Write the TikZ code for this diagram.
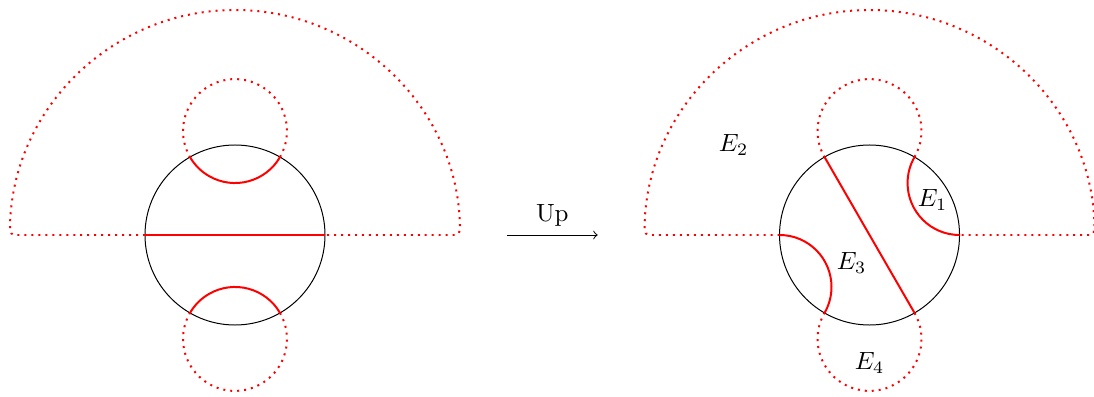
\documentclass[tikz,border=0pt]{standalone}
\usepackage{amsmath}

\begin{document}
\begin{tikzpicture}[
    x=1.27cm, y=1.27cm,
    seam/.style={red, thick, dotted},
    cut/.style={red, thick},
    >=to
]

\useasboundingbox (-2.611,-1.789) rectangle (9.544,2.611);

% --- Before: disc with the horizontal cut ---
\draw[thin] (0,0) circle (1);
\draw[seam, rounded corners=2pt] (-1,0) -- (-2.5,0) arc[start angle=180, end angle=0, radius=2.5] -- (1,0);
\draw[seam] (60:1) arc[start angle=-30, end angle=210, radius=0.5774];
\draw[seam] (-60:1) arc[start angle=30, end angle=-210, radius=0.5774];
\draw[cut] (60:1) arc[start angle=-30, end angle=-150, radius=0.5774];
\draw[cut] (-60:1) arc[start angle=30, end angle=150, radius=0.5774];
\draw[cut] (-1,0) -- (1,0);

% --- The move ---
\coordinate (from) at (3.02,0);
\coordinate (to) at (4.03,0);
\draw[->] (from) -- node[above] (up) {Up} (to);

% --- After: disc with the four regions ---
\begin{scope}[shift={(7.05,0)}]
\draw[thin] (0,0) circle (1);
\draw[seam, rounded corners=2pt] (-1,0) -- (-2.5,0) arc[start angle=180, end angle=0, radius=2.5] -- (1,0);
\draw[seam] (60:1) arc[start angle=-30, end angle=210, radius=0.5774];
\draw[seam] (-60:1) arc[start angle=30, end angle=-210, radius=0.5774];
\draw[cut] (120:1) -- (300:1);
\draw[cut] (0:1) arc[start angle=270, end angle=150, radius=0.5774];
\draw[cut] (180:1) arc[start angle=90, end angle=-30, radius=0.5774];

\node (e1) at (0.7,0.39) {$E_1$};
\node (e2) at (-1.51,1.0) {$E_2$};
\node (e3) at (-0.2,-0.31) {$E_3$};
\node (e4) at (0,-1.42) {$E_4$};
\end{scope}

\end{tikzpicture}
\end{document}
